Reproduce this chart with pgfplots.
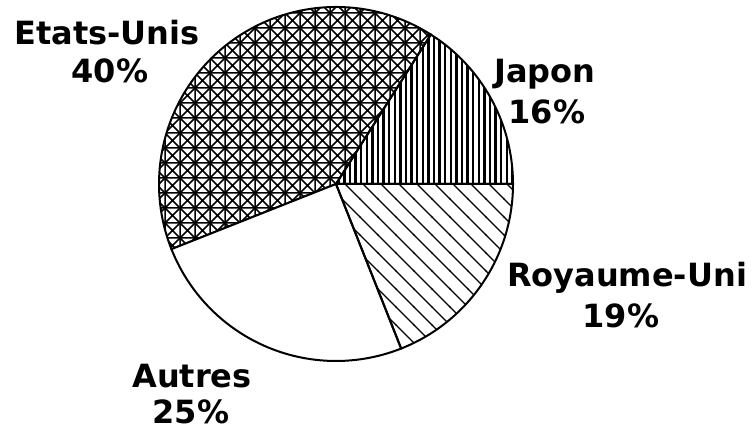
\documentclass[border=0pt]{standalone}
\usepackage{pgfplots}
\pgfplotsset{compat=1.18}
\usepackage{fontspec}
\setmainfont{DejaVu Sans}
\usetikzlibrary{patterns}

% vertical hatching (Japon)
\pgfdeclarepatternformonly{vlines}{\pgfqpoint{0bp}{-1bp}}{\pgfqpoint{5.6bp}{11bp}}{\pgfqpoint{5.6bp}{10bp}}{%
  \pgfsetlinewidth{2.3bp}%
  \pgfpathmoveto{\pgfqpoint{2.8bp}{-1bp}}\pgfpathlineto{\pgfqpoint{2.8bp}{11bp}}\pgfusepath{stroke}}
% wide diagonal hatching (Royaume-Uni)
\pgfdeclarepatternformonly{diag}{\pgfqpoint{-1bp}{-1bp}}{\pgfqpoint{19bp}{19bp}}{\pgfqpoint{18bp}{18bp}}{%
  \pgfsetlinewidth{1.3bp}%
  \pgfpathmoveto{\pgfqpoint{-1bp}{19bp}}\pgfpathlineto{\pgfqpoint{19bp}{-1bp}}\pgfusepath{stroke}}
% grid with crosses (Etats-Unis)
\pgfdeclarepatternformonly{crossx}{\pgfqpoint{-1bp}{-1bp}}{\pgfqpoint{16bp}{16bp}}{\pgfqpoint{15bp}{15bp}}{%
  \pgfsetlinewidth{1.5bp}%
  \pgfpathmoveto{\pgfqpoint{0bp}{-1bp}}\pgfpathlineto{\pgfqpoint{0bp}{16bp}}%
  \pgfpathmoveto{\pgfqpoint{-1bp}{0bp}}\pgfpathlineto{\pgfqpoint{16bp}{0bp}}%
  \pgfpathmoveto{\pgfqpoint{-0.5bp}{-0.5bp}}\pgfpathlineto{\pgfqpoint{15.5bp}{15.5bp}}%
  \pgfpathmoveto{\pgfqpoint{-0.5bp}{15.5bp}}\pgfpathlineto{\pgfqpoint{15.5bp}{-0.5bp}}%
  \pgfusepath{stroke}}

% #1 = cumulative share before the slice, #2 = share (%), #3 = style
\newcommand\slice[3]{%
  \draw[overlay, line width=2bp, #3] (axis cs:336,249) -- ++({3.6*#1}:177bp)
    arc[start angle={3.6*#1}, end angle={3.6*(#1+#2)}, radius=177bp] -- cycle;}

\begin{document}
\begin{tikzpicture}
\begin{axis}[hide axis, scale only axis, width=756bp, height=433bp,
  xmin=0, xmax=756, ymin=0, ymax=433, clip=false]
\path (rel axis cs:0,0) rectangle (rel axis cs:1,1);

\slice{0}{16}{pattern=vlines}    % Japon
\slice{16}{40}{pattern=crossx}   % Etats-Unis
\slice{56}{25}{fill=white}       % Autres
\slice{81}{19}{pattern=diag}     % Royaume-Uni

\tikzset{lbl/.style={anchor=base, inner sep=0pt, overlay, font=\bfseries\fontsize{32bp}{37bp}\selectfont}}
\node[lbl] at (axis cs:107,388) {Etats-Unis};
\node[lbl] at (axis cs:110,350) {40\%};
\node[lbl] at (axis cs:545,350) {Japon};
\node[lbl] at (axis cs:547,309) {16\%};
\node[lbl] at (axis cs:627,146) {Royaume-Uni};
\node[lbl] at (axis cs:621,105) {19\%};
\node[lbl] at (axis cs:192,45) {Autres};
\node[lbl] at (axis cs:191,10) {25\%};
\end{axis}
\end{tikzpicture}
\end{document}
